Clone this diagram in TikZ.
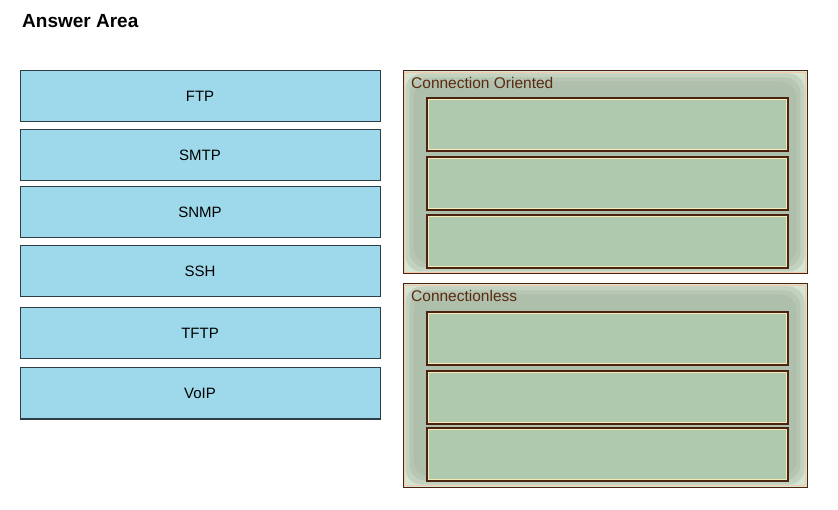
\documentclass[tikz,border=0pt]{standalone}
\usepackage{fontspec}
\setmainfont{Liberation Sans}
\usepackage{xcolor}
\usetikzlibrary{backgrounds,fit,calc}

\definecolor{protoblue}{HTML}{9DD9EA}
\definecolor{protoline}{HTML}{2F3E46}
\definecolor{panelgreen}{HTML}{A4B6A1}
\definecolor{paneledge}{HTML}{D6E5D2}
\definecolor{slotgreen}{HTML}{AEC9AE}
\definecolor{brownline}{HTML}{4A2410}
\definecolor{pinkline}{HTML}{F2C9AE}
\definecolor{creamline}{HTML}{F7EAB8}
\definecolor{titlebrown}{HTML}{5A2A12}

\tikzset{
  proto/.style={draw=protoline, line width=1pt, fill=protoblue,
    minimum width=360pt, minimum height=51pt, inner sep=0pt,
    font=\fontsize{15}{15}\selectfont},
  panel/.style={draw=brownline, line width=1pt, fill=paneledge,
    minimum width=404pt, minimum height=203pt, inner sep=0pt},
  slot/.style={draw=brownline, line width=1.4pt, fill=slotgreen,
    minimum width=361pt, minimum height=53pt, inner sep=0pt},
  paneltitle/.style={anchor=west, text=titlebrown, inner sep=0pt,
    font=\fontsize{15.5}{15.5}\selectfont},
  haze/.style={fill=panelgreen, fill opacity=0.4, rounded corners=16pt}
}

\begin{document}
\begin{tikzpicture}[x=1pt,y=-1pt]
\useasboundingbox [fill=white] (0,0) rectangle (838,510);
\node [anchor=west, inner sep=0pt, font=\bfseries\fontsize{19}{19}\selectfont] (title) at (22,21) {Answer Area};

% protocols to drag
\node [proto] (ftp) at (200,96.5) {FTP};
\node [proto] (smtp) at (200,155.5) {SMTP};
\node [proto] (snmp) at (200,212.5) {SNMP};
\node [proto] (ssh) at (200,271.5) {SSH};
\node [proto] (tftp) at (200,333.5) {TFTP};
\node [proto] (voip) at (200,393.5) {VoIP};

% target panels
\node [panel] (oriented) at (605,172.5) {};
\node [panel] (less) at (605,385.5) {};
\foreach \p in {oriented,less}
  \foreach \d in {3,7,11}
    \fill [haze] ($(\p.north west)+(\d,\d)$) rectangle ($(\p.south east)+(-\d,-\d)$);
\draw [pinkline, line width=1pt] (404.5,72.5) rectangle (805.5,272.5);
\draw [pinkline, line width=1pt] (404.5,285.5) rectangle (805.5,485.5);
\node [paneltitle] (orientedtitle) at (411,83) {Connection Oriented};
\node [paneltitle] (lesstitle) at (411,296) {Connectionless};

% empty answer slots
\node [slot] (o1) at (607.5,124.5) {};
\node [slot] (o2) at (607.5,183.5) {};
\node [slot] (o3) at (607.5,241.5) {};
\node [slot] (l1) at (607.5,338.5) {};
\node [slot] (l2) at (607.5,397.5) {};
\node [slot] (l3) at (607.5,454.5) {};
\foreach \s in {o1,o2,o3,l1,l2,l3}
  \draw [creamline, line width=1pt] ($(\s.north west)+(2.5,2.5)$) rectangle ($(\s.south east)+(-2.5,-2.5)$);
\end{tikzpicture}
\end{document}
